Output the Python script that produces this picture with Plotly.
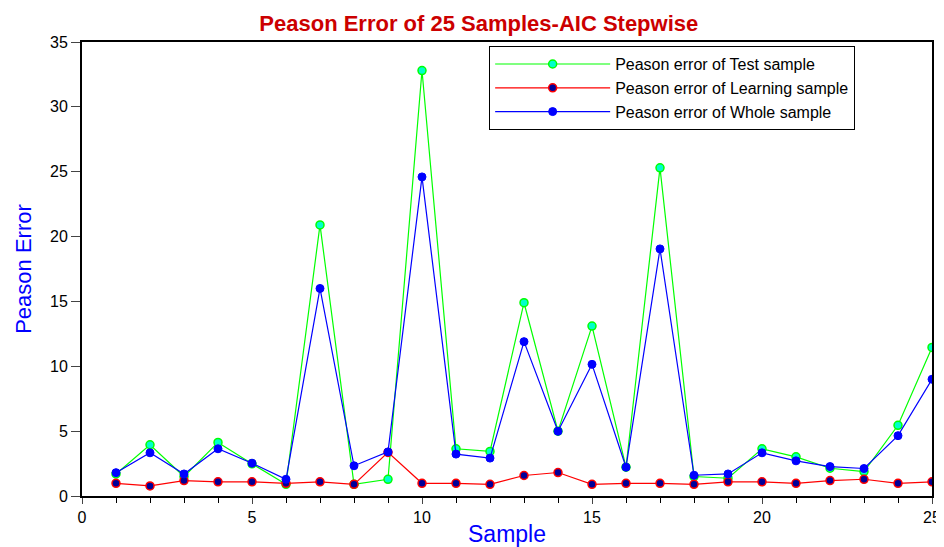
import plotly.graph_objects as go

samples = list(range(1, 26))
test_err = [1.7, 3.95, 1.5, 4.13, 2.48, 0.9, 20.9, 0.9, 1.29, 32.8, 3.64, 3.44, 14.9, 5.0, 13.1,
            2.22, 25.3, 1.5, 1.37, 3.64, 3.02, 2.14, 1.88, 5.45, 11.45]
learn_err = [0.98, 0.78, 1.19, 1.09, 1.09, 0.98, 1.09, 0.9, 3.36, 0.98, 0.98, 0.9, 1.58, 1.81, 0.9,
             0.98, 0.98, 0.9, 1.09, 1.09, 0.98, 1.19, 1.29, 0.98, 1.09]
whole_err = [1.8, 3.33, 1.7, 3.64, 2.53, 1.29, 16.0, 2.33, 3.4, 24.6, 3.23, 2.92, 11.9, 4.99, 10.15,
             2.22, 19.05, 1.6, 1.7, 3.33, 2.71, 2.27, 2.12, 4.65, 9.0]

fig = go.Figure()
fig.add_trace(go.Scatter(x=samples, y=test_err, mode="lines+markers",
                         name="Peason error of Test sample",
                         line=dict(color="#00ff00", width=1.2),
                         marker=dict(size=8, color="#00ffcc", line=dict(color="#00ff00", width=1.5))))
fig.add_trace(go.Scatter(x=samples, y=learn_err, mode="lines+markers",
                         name="Peason error of Learning sample",
                         line=dict(color="#ff0000", width=1.2),
                         marker=dict(size=8, color="#000099", line=dict(color="#ff0000", width=1.5))))
fig.add_trace(go.Scatter(x=samples, y=whole_err, mode="lines+markers",
                         name="Peason error of Whole sample",
                         line=dict(color="#0000ff", width=1.2),
                         marker=dict(size=8, color="#0000ff", line=dict(color="#0000ff", width=1))))

# page has an 8px body margin, so the figure is sized to fit the window
fig.update_layout(
    width=936, height=539,
    margin=dict(l=74, r=12, t=34, b=51),
    paper_bgcolor="white", plot_bgcolor="white",
    font=dict(family="Liberation Sans, Arial, sans-serif", size=16, color="black"),
    title=dict(text="<b>Peason Error of 25 Samples-AIC Stepwise</b>",
               font=dict(family="Liberation Sans, Arial", size=22, color="#cc0000"),
               x=0.503, xanchor="center", y=0.985, yanchor="top"),
    showlegend=True,
    legend=dict(x=0.479, y=0.991, xanchor="left", yanchor="top",
                bordercolor="black", borderwidth=1, bgcolor="white",
                font=dict(size=16), tracegroupgap=0, itemwidth=115),
    xaxis=dict(range=[0, 25], tickvals=[0, 5, 10, 15, 20, 25], ticks="outside", ticklen=6,
               tickwidth=1, showgrid=False, zeroline=False, showline=True, linecolor="black",
               linewidth=2, mirror=True, automargin=False,
               minor=dict(tickvals=list(range(0, 26)), ticks="outside", ticklen=5, tickcolor="black"),
               title=dict(text="Sample", font=dict(size=23, color="#0000ff"), standoff=2)),
    yaxis=dict(range=[0, 35], tickvals=[0, 5, 10, 15, 20, 25, 30, 35], ticks="outside", ticklen=9,
               tickwidth=1, showgrid=False, zeroline=False, showline=True, linecolor="black",
               linewidth=2, mirror=True, automargin=False,
               title=dict(text="Peason Error",
                          font=dict(family="Liberation Sans Narrow, Liberation Sans, Arial",
                                    size=22, color="#0000ff"), standoff=12)),
)

fig.write_html("out.html")
